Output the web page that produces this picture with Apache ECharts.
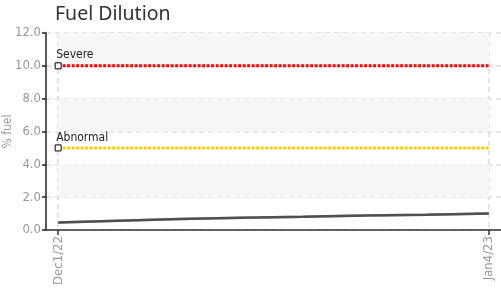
<!DOCTYPE html>
<html>
<head>
<meta charset="utf-8">
<script src="https://cdn.jsdelivr.net/npm/echarts@6/dist/echarts.min.js"></script>
<style>html,body{margin:0;padding:0;background:#fff}#c{width:501px;height:289px}</style>
</head>
<body>
<div id="c"></div>
<script>
var title = 'Fuel Dilution';
var yName = '% fuel';
var yMin = 0, yMax = 12, yInterval = 2;
var xTickDates = ['2022-12-01T00:00:00', '2023-01-04T00:00:00'];
var xMinDate = '2022-11-30T01:00:00';
var xMaxDate = '2023-01-04T23:00:00';
var sampleDates = ['2022-12-01T00:00:00','2022-12-05T18:00:00','2022-12-10T15:00:00','2022-12-15T12:00:00','2022-12-20T08:00:00','2022-12-25T05:00:00','2022-12-30T02:00:00','2023-01-04T00:00:00'];
var fuelValues = [0.45, 0.57, 0.67, 0.75, 0.81, 0.88, 0.93, 1.0];
var thresholdNames = ['Severe', 'Abnormal'];
var thresholdValues = [10, 5];
var thresholdColors = ['#ff0000', '#ffcc00'];
var bandRanges = [[2, 4], [6, 8], [10, 12]];

var MONTHS = ['Jan','Feb','Mar','Apr','May','Jun','Jul','Aug','Sep','Oct','Nov','Dec'];
function ts(s){ return new Date(s).getTime(); }
function fmtDate(v){
  var d = new Date(v);
  return MONTHS[d.getMonth()] + d.getDate() + '/' + String(d.getFullYear()).slice(2);
}
var narrow = '"Liberation Sans Narrow", "DejaVu Sans Condensed", "Arial Narrow", sans-serif';
var tickVals = xTickDates.map(ts);
var fuelData = sampleDates.map(function(d, i){ return [ts(d), fuelValues[i]]; });

var series = [];
series.push({
  type: 'line', name: 'bands', data: [], silent: true,
  markArea: {
    silent: true,
    itemStyle: { color: '#f7f7f7' },
    data: bandRanges.map(function(r){
      return [{ xAxis: tickVals[0], yAxis: r[0] }, { xAxis: tickVals[1], yAxis: r[1] }];
    })
  },
  z: 0
});
series.push({
  type: 'line', name: 'trend', data: fuelData, showSymbol: false, silent: true,
  lineStyle: { color: '#b4b4b4', width: 2.5 }, z: 2
});
series.push({
  type: 'line', name: 'fuel', data: fuelData, step: 'start', showSymbol: false, silent: true,
  lineStyle: { color: '#505050', width: 2.5 }, z: 3
});
thresholdNames.forEach(function(name, i){
  series.push({
    type: 'line', name: name, silent: true, z: 4,
    lineStyle: { color: thresholdColors[i], width: 3, type: [3, 1.5] },
    data: [
      { value: [tickVals[0], thresholdValues[i]], symbol: 'rect', symbolSize: 6,
        itemStyle: { color: '#fff', borderColor: '#000', borderWidth: 1 },
        label: { show: true, formatter: name, position: 'top', align: 'left', distance: 1,
                 offset: [-2, 0], color: '#222', fontSize: 12, fontFamily: narrow } },
      { value: [tickVals[1], thresholdValues[i]], symbol: 'none' }
    ],
    showSymbol: true
  });
});

var chart = echarts.init(document.getElementById('c'), null, { renderer: 'canvas' });
chart.setOption({
  animation: false,
  backgroundColor: '#fff',
  title: { text: title, left: 50, top: -1,
    textStyle: { fontFamily: '"Noto Sans", sans-serif', fontSize: 19.5, fontWeight: 'normal', color: '#333' } },
  grid: { left: 46, right: 0, top: 33, bottom: 59, containLabel: false, outerBoundsMode: 'none' },
  xAxis: {
    type: 'value', min: ts(xMinDate), max: ts(xMaxDate),
    axisLine: { show: true, lineStyle: { color: '#333', width: 1.5 } },
    axisTick: { show: true, customValues: tickVals, length: 5, lineStyle: { color: '#333', width: 1.5 } },
    axisLabel: { show: true, customValues: tickVals, rotate: 90, formatter: function(v){ return fmtDate(v); },
      color: '#999', fontSize: 13, fontFamily: narrow, margin: 6 },
    splitLine: { show: true, lineStyle: { color: '#ddd', type: [5, 4], width: 1.5 } }
  },
  yAxis: {
    type: 'value', min: yMin, max: yMax, interval: yInterval,
    name: yName, nameLocation: 'middle', nameGap: 32, nameRotate: 90, nameMoveOverlap: false,
    nameTextStyle: { color: '#999', fontSize: 12, fontFamily: narrow },
    axisLine: { show: true, lineStyle: { color: '#222', width: 1.5 } },
    axisTick: { show: true, length: 4, lineStyle: { color: '#222', width: 1.5 } },
    axisLabel: { formatter: function(v){ return v.toFixed(1); }, color: '#999', fontSize: 13, fontFamily: narrow, margin: 5 },
    splitLine: { show: true, lineStyle: { color: '#ddd', type: [5, 4], width: 1.5 } }
  },
  series: series
});
</script>
</body>
</html>
